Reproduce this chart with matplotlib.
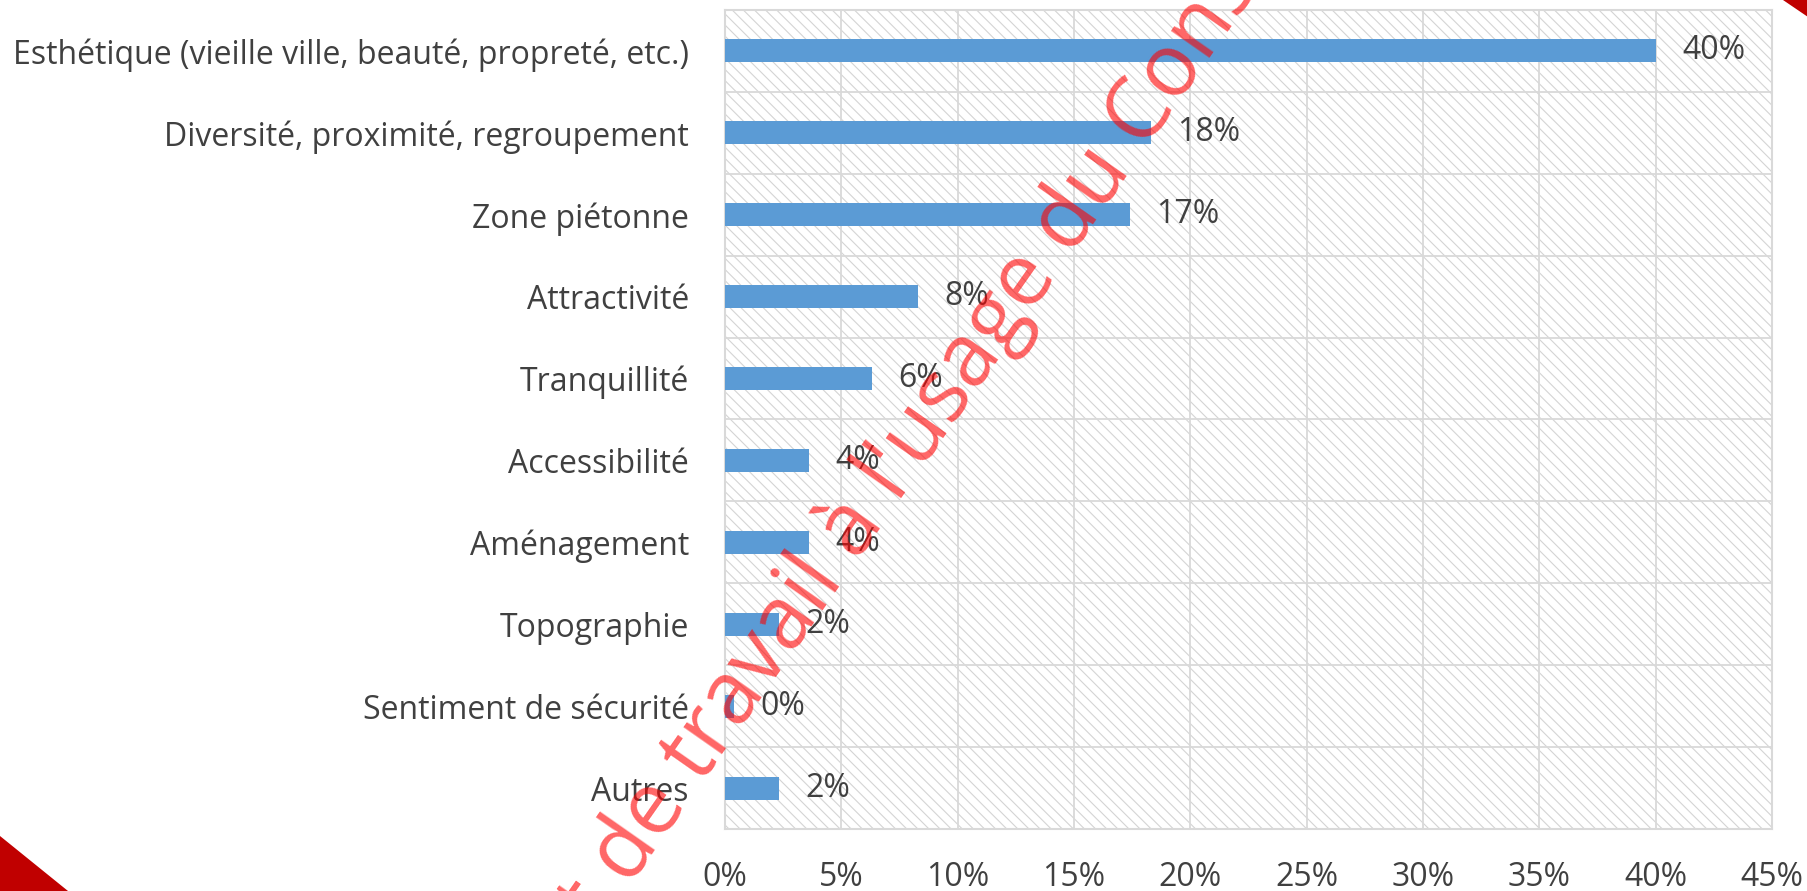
import matplotlib
matplotlib.use("Agg")
import matplotlib.pyplot as plt
from matplotlib.patches import Rectangle, Polygon
from matplotlib.font_manager import FontProperties
import numpy as np

# ---- data ----
categories = [
    "Esthétique (vieille ville, beauté, propreté, etc.)",
    "Diversité, proximité, regroupement",
    "Zone piétonne",
    "Attractivité",
    "Tranquillité",
    "Accessibilité",
    "Aménagement",
    "Topographie",
    "Sentiment de sécurité",
    "Autres",
]
values = [40.0, 18.3, 17.4, 8.3, 6.3, 3.6, 3.6, 2.3, 0.4, 2.3]
value_labels = ["40%", "18%", "17%", "8%", "6%", "4%", "4%", "2%", "0%", "2%"]
xticks = [0, 5, 10, 15, 20, 25, 30, 35, 40, 45]
xtick_labels = ["0%", "5%", "10%", "15%", "20%", "25%", "30%", "35%", "40%", "45%"]
watermark = "Document de travail à l'usage du Conseil"

# ---- style ----
W, H = 1808, 891
LABEL_FONT = "Open Sans"
FS = 23
TXT = "#404040"
GRID = "#d9d9d9"
BAR = "#5b9bd5"

plt.rcParams["hatch.color"] = "#d4d4d4"
plt.rcParams["hatch.linewidth"] = 0.8

fig = plt.figure(figsize=(W / 100, H / 100), dpi=100)
ax = fig.add_axes([725 / W, 1 - 829 / H, (1772 - 725) / W, (829 - 10) / H])

n = len(categories)
y = np.arange(n)

# hatched background
ax.add_patch(Rectangle((0, 0), 1, 1, transform=ax.transAxes, facecolor="white",
                       edgecolor="#d4d4d4", hatch="\\\\\\", lw=0, zorder=0))

ax.barh(y, values, height=0.28, color=BAR, zorder=3)

ax.set_xlim(0, 45)
ax.set_ylim(n - 0.5, -0.5)

for xt in xticks[1:-1]:
    ax.axvline(xt, color=GRID, lw=1.3, zorder=1)
for i in range(n - 1):
    ax.axhline(i + 0.5, color=GRID, lw=1.3, zorder=1)

for s in ax.spines.values():
    s.set_color(GRID)
    s.set_linewidth(1.5)

ax.set_yticks(y)
ax.set_yticklabels(categories, fontsize=FS, color=TXT, family=LABEL_FONT)
ax.set_xticks(xticks)
ax.set_xticklabels(xtick_labels, fontsize=FS, color=TXT, family=LABEL_FONT)
ax.tick_params(axis="y", length=0, pad=26)
ax.tick_params(axis="x", length=0, pad=23)

for i, (v, lab) in enumerate(zip(values, value_labels)):
    ax.annotate(lab, (v, i), xytext=(19, 0), textcoords="offset points",
                va="center", ha="left", fontsize=FS, color=TXT,
                family=LABEL_FONT, zorder=4)

# red corner triangles
fig.patches.append(Polygon([(0, 0), (0, 55 / H), (68 / W, 0)], closed=True,
                           transform=fig.transFigure, facecolor="#c00000",
                           edgecolor="none", zorder=5))
fig.patches.append(Polygon([(1783 / W, 1), (1, 1), (1, 1 - 17 / H)], closed=True,
                           transform=fig.transFigure, facecolor="#c00000",
                           edgecolor="none", zorder=5))

# watermark
ang = 55.0
th = np.deg2rad(ang)
d = np.array([np.cos(th), np.sin(th)])
p = np.array([-np.sin(th), np.cos(th)])
wfs = 62.5
em = wfs * 100 / 72
prop = FontProperties(family="Open Sans", size=wfs)
renderer = fig.canvas.get_renderer()
wp, _, _ = renderer.get_text_width_height_descent("Document d", prop, ismath=False)
e_center = np.array([655.0, H - 810.0])
e_left_base = e_center - 0.28 * em * d - 0.27 * em * p
S = e_left_base - wp * d
fig.text(S[0] / W, S[1] / H, watermark, rotation=ang, rotation_mode="anchor",
         ha="left", va="baseline", fontproperties=prop, color="red", alpha=0.6,
         zorder=10)

fig.savefig("out.png", dpi=100)
